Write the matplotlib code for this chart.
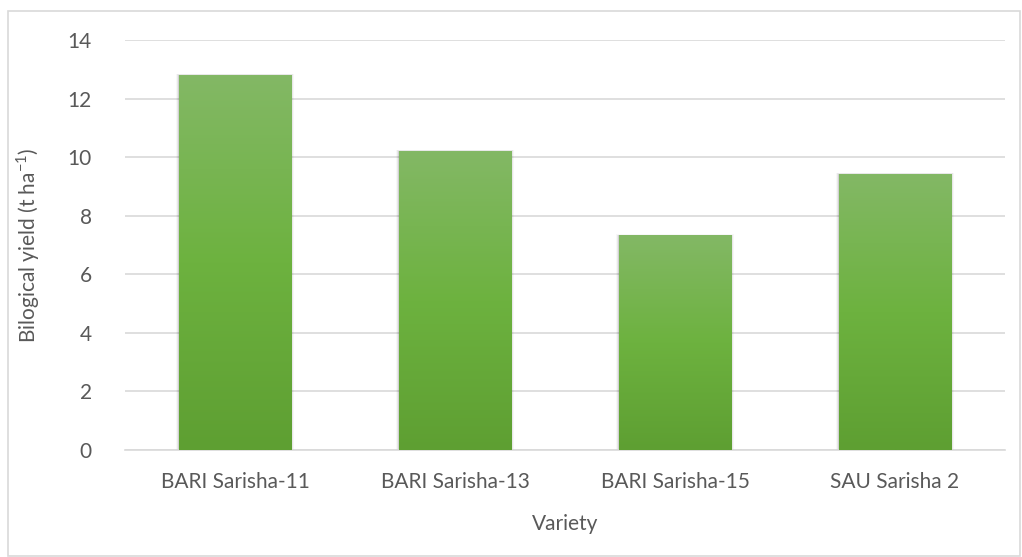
import numpy as np
import matplotlib
matplotlib.use('Agg')
import matplotlib.pyplot as plt
from matplotlib.patches import Rectangle
import matplotlib.colors as mcolors

# --- Dados ---
variedades = ['BARI Sarisha-11', 'BARI Sarisha-13', 'BARI Sarisha-15', 'SAU Sarisha 2']
rendimento = [12.8, 10.2, 7.32, 9.42]

plt.rcParams['font.family'] = ['Lato', 'DejaVu Sans']
cor_texto = '#595959'

fig = plt.figure(figsize=(10.22, 5.57), dpi=100)
ax = fig.add_axes([125 / 1022, 1 - 450 / 557, 880 / 1022, 410 / 557])

# borda externa do gráfico
fig.patches.append(Rectangle((8 / 1022, 1 / 557), 1012 / 1022, 545 / 557,
                             transform=fig.transFigure, fill=False,
                             edgecolor='#d9d9d9', linewidth=1.2))

x = np.arange(len(variedades))
largura = 0.51
barras = ax.bar(x, rendimento, width=largura, color='none', zorder=3)

# gradiente verde em cada barra + sombra leve nas laterais
cmap = mcolors.LinearSegmentedColormap.from_list('verde', ['#5e9f32', '#6db23f', '#83b865'])
grad = np.linspace(0, 1, 256).reshape(-1, 1)
for b in barras:
    x0, h = b.get_x(), b.get_height()
    for i, a in enumerate([0.10, 0.06, 0.03]):
        d = 0.004 * (i + 1)
        ax.add_patch(Rectangle((x0 - d, 0), largura + 2 * d, h + d * 4,
                               facecolor='black', alpha=a, edgecolor='none', zorder=2))
    ax.imshow(grad, cmap=cmap, aspect='auto', origin='lower',
              extent=(x0, x0 + largura, 0, h), zorder=4)

ax.set_xlim(-0.5, len(variedades) - 0.5)
ax.set_ylim(0, 14)
ax.set_yticks(range(0, 15, 2))
ax.set_xticks(x)
ax.set_xticklabels(variedades)
ax.yaxis.grid(True, color='#d9d9d9', linewidth=1.2, zorder=0)
ax.set_axisbelow(True)
for s in ['top', 'right', 'left']:
    ax.spines[s].set_visible(False)
ax.spines['bottom'].set_color('#d9d9d9')
ax.spines['bottom'].set_linewidth(1.2)
ax.tick_params(axis='y', length=0, labelsize=15, colors=cor_texto, pad=24)
ax.tick_params(axis='x', length=0, labelsize=15, colors=cor_texto, pad=16)

ax.set_xlabel('Variety', fontsize=15, color=cor_texto, labelpad=16)
ax.set_ylabel(r'Bilogical yield (t ha$^{\mathregular{-1}}$)', fontsize=15,
              color=cor_texto, labelpad=18)

fig.savefig('out.png', dpi=100)
